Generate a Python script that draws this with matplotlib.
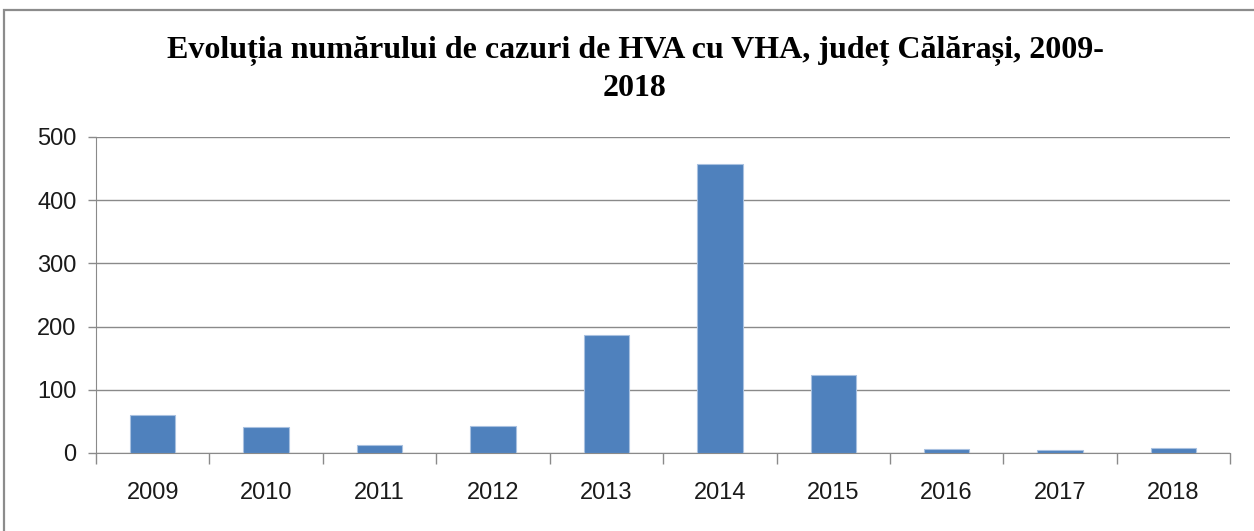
import matplotlib.pyplot as plt
from matplotlib.patches import Rectangle

years = ['2009', '2010', '2011', '2012', '2013', '2014', '2015', '2016', '2017', '2018']
cases = [60, 41, 12, 43, 187, 458, 124, 6, 4, 8]

fig = plt.figure(figsize=(12.54, 5.31), dpi=100)
ax = fig.add_axes([0.0766, 0.147, 0.9044, 0.595])

# outer frame of the chart (right and bottom edges fall outside the image)
fig.patches.append(Rectangle((0.0035, -0.02), 1.02, 1.001, transform=fig.transFigure,
                             fill=False, edgecolor='#8c8c8c', linewidth=1.6))

x = range(len(years))
ax.bar(x, cases, width=0.4, color='#4f81bd', edgecolor='#a9c1e0', linewidth=0.8, zorder=3)

ax.set_xlim(-0.5, len(years) - 0.5)
ax.set_ylim(0, 500)
ax.set_yticks(range(0, 501, 100))
ax.grid(axis='y', color='#8a8a8a', linewidth=1.0, zorder=0)

# category ticks sit between bars
ax.set_xticks([i - 0.5 for i in range(len(years) + 1)], minor=False)
ax.set_xticklabels([])
ax.set_xticks(list(x), minor=True)
ax.set_xticklabels(years, minor=True)
ax.tick_params(axis='x', which='major', length=8, color='#8a8a8a', width=1.0)
ax.tick_params(axis='x', which='minor', length=0, pad=21, labelsize=17, labelcolor='#1a1a1a')
ax.tick_params(axis='y', length=6, color='#8a8a8a', width=1.0, labelsize=17,
               labelcolor='#1a1a1a', pad=8)
for lab in ax.get_xticklabels(minor=True) + ax.get_yticklabels():
    lab.set_fontfamily('Liberation Sans')

for s in ['top', 'right']:
    ax.spines[s].set_visible(False)
ax.spines['left'].set_color('#8a8a8a')
ax.spines['bottom'].set_color('#8a8a8a')

fig.text(0.5064, 0.904, 'Evoluția numărului de cazuri de HVA cu VHA, județ Călărași, 2009-',
         ha='center', va='center', fontsize=23, fontweight='bold', family='Liberation Serif')
fig.text(0.5064, 0.834, '2018', ha='center', va='center', fontsize=23,
         fontweight='bold', family='Liberation Serif')

fig.savefig('out.png', dpi=100)
